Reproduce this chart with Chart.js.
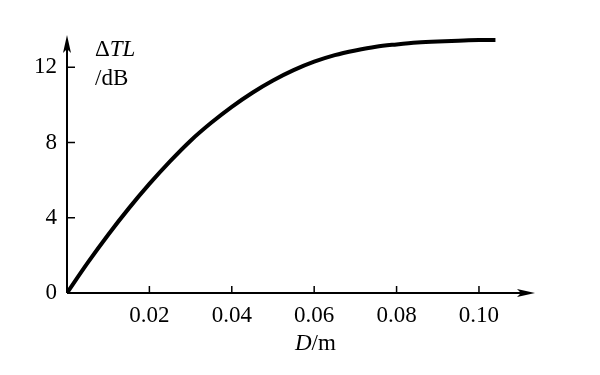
<!DOCTYPE html>
<html>
<head>
<meta charset="utf-8">
<script src="https://cdn.jsdelivr.net/npm/chart.js@4"></script>
<style>
    html, body { margin: 0; padding: 0; background: #fff; }
    #wrap { width: 600px; height: 375px; }
</style>
</head>
<body>
<div id="wrap"><canvas id="tl-chart"></canvas></div>
<script>
const dValues = [0, 0.005, 0.01, 0.015, 0.02, 0.025, 0.03, 0.035, 0.04, 0.045, 0.05, 0.055,
    0.06, 0.065, 0.07, 0.075, 0.08, 0.085, 0.09, 0.095, 0.1, 0.104];
const tlValues = [0, 1.6, 3.1, 4.5, 5.8, 7.0, 8.1, 9.05, 9.9, 10.65, 11.3, 11.85,
    12.3, 12.65, 12.9, 13.1, 13.22, 13.32, 13.38, 13.42, 13.45, 13.45];
const xTicks = [0.02, 0.04, 0.06, 0.08, 0.10];
const yTicks = [0, 4, 8, 12];

const serif = "'Liberation Serif', 'DejaVu Serif', serif";

const axesPlugin = {
    id: 'axesPlugin',
    afterDraw (chart) {
        const ctx = chart.ctx;
        const area = chart.chartArea;
        const x = chart.scales.x;
        const y = chart.scales.y;
        const x0 = x.getPixelForValue(0);
        const y0 = y.getPixelForValue(0);

        ctx.save();
        ctx.strokeStyle = '#000';
        ctx.fillStyle = '#000';
        ctx.lineWidth = 2;

        // axis lines
        ctx.beginPath();
        ctx.moveTo(x0, y0);
        ctx.lineTo(x0, area.top + 6);
        ctx.moveTo(x0, y0);
        ctx.lineTo(area.right - 6, y0);
        ctx.stroke();

        // arrow heads
        ctx.beginPath();
        ctx.moveTo(x0, area.top);
        ctx.lineTo(x0 - 4, area.top + 18);
        ctx.lineTo(x0, area.top + 14);
        ctx.lineTo(x0 + 4, area.top + 18);
        ctx.closePath();
        ctx.fill();
        ctx.beginPath();
        ctx.moveTo(area.right, y0);
        ctx.lineTo(area.right - 18, y0 - 4);
        ctx.lineTo(area.right - 14, y0);
        ctx.lineTo(area.right - 18, y0 + 4);
        ctx.closePath();
        ctx.fill();

        // inward tick marks
        ctx.lineWidth = 1.5;
        ctx.beginPath();
        xTicks.forEach(v => {
            const px = x.getPixelForValue(v);
            ctx.moveTo(px, y0);
            ctx.lineTo(px, y0 - 7);
        });
        yTicks.filter(v => v > 0).forEach(v => {
            const py = y.getPixelForValue(v);
            ctx.moveTo(x0, py);
            ctx.lineTo(x0 + 8, py);
        });
        ctx.stroke();

        // axis titles
        ctx.textBaseline = 'alphabetic';
        ctx.textAlign = 'left';
        ctx.font = '23px ' + serif;
        ctx.fillText('\u0394', 95, 56);
        const dw = ctx.measureText('\u0394').width;
        ctx.font = 'italic 23px ' + serif;
        ctx.fillText('TL', 95 + dw, 56);
        ctx.font = '23px ' + serif;
        ctx.fillText('/dB', 95, 85);

        ctx.font = 'italic 23px ' + serif;
        ctx.fillText('D', 295, 350);
        const w = ctx.measureText('D').width;
        ctx.font = '23px ' + serif;
        ctx.fillText('/m', 295 + w, 350);
        ctx.restore();
    }
};

new Chart(
    document.getElementById('tl-chart'),
    {
        type: 'line',
        data: {
            datasets: [
                {
                    data: dValues.map((d, i) => ({ x: d, y: tlValues[i] })),
                    borderColor: '#000',
                    borderWidth: 4,
                    pointRadius: 0,
                    cubicInterpolationMode: 'monotone',
                    fill: false
                }
            ]
        },
        options: {
            responsive: true,
            maintainAspectRatio: false,
            animation: false,
            layout: {
                padding: { left: 0, top: 35, right: 65, bottom: 0 }
            },
            plugins: {
                legend: { display: false },
                tooltip: { enabled: false }
            },
            scales: {
                x: {
                    type: 'linear',
                    min: 0,
                    max: 0.1136,
                    afterBuildTicks: scale => {
                        scale.ticks = xTicks.map(v => ({ value: v }));
                    },
                    afterFit: scale => { scale.height = 82; },
                    grid: { display: false, drawTicks: false },
                    border: { display: false },
                    ticks: {
                        padding: 9,
                        color: '#000',
                        font: { family: serif, size: 23 },
                        maxRotation: 0,
                        callback: v => v.toFixed(2)
                    }
                },
                y: {
                    type: 'linear',
                    min: 0,
                    max: 13.72,
                    afterBuildTicks: scale => {
                        scale.ticks = yTicks.map(v => ({ value: v }));
                    },
                    afterFit: scale => { scale.width = 67; },
                    grid: { display: false, drawTicks: false },
                    border: { display: false },
                    ticks: {
                        padding: 10,
                        color: '#000',
                        font: { family: serif, size: 23 },
                        callback: v => String(v)
                    }
                }
            }
        },
        plugins: [axesPlugin]
    }
);
</script>
</body>
</html>
